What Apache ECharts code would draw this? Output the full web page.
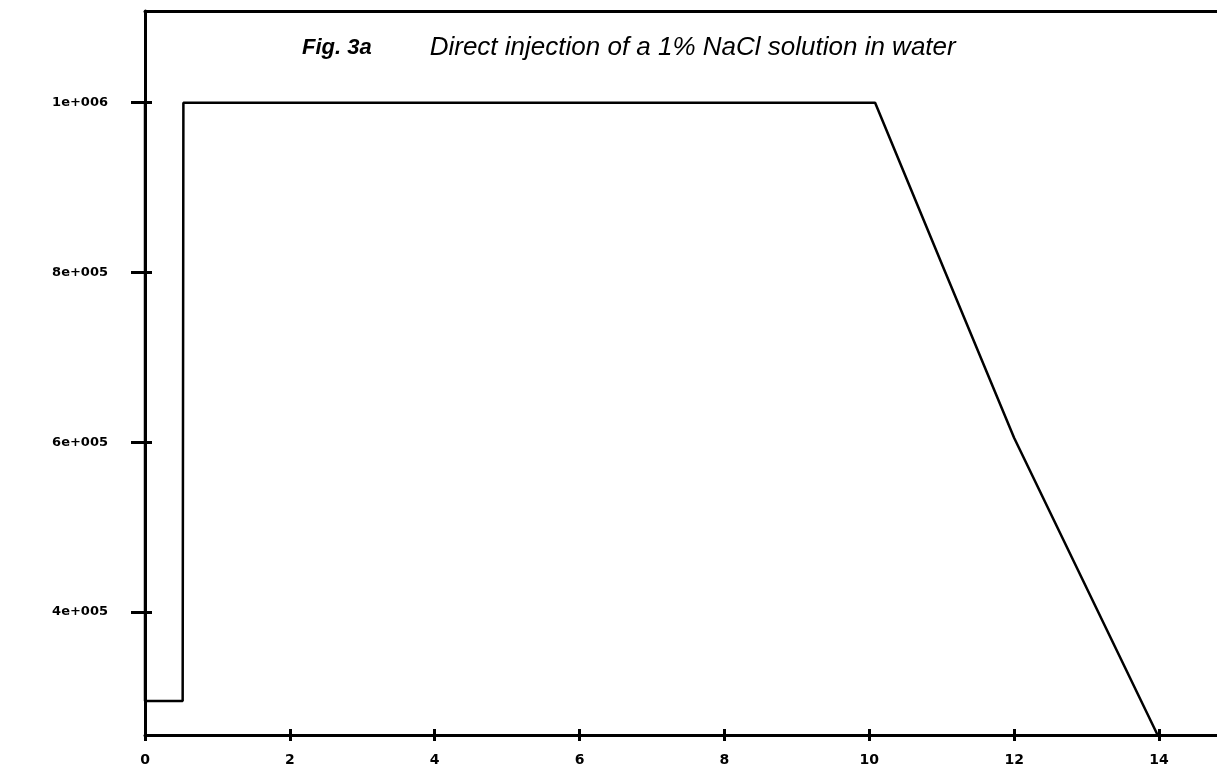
<!DOCTYPE html>
<html>
<head>
<meta charset="utf-8">
<title>Fig. 3a</title>
<script src="https://cdn.jsdelivr.net/npm/echarts@6/dist/echarts.min.js"></script>
<style>
    html, body { margin: 0; padding: 0; background: #fff; }
    #chart { width: 1217px; height: 767px; }
</style>
</head>
<body>
<div id="chart"></div>
<script>
// time (x) and signal (y) of the trace
const timeValues = [0, 0, 0.52, 0.53, 10.08, 11.05, 12.0, 13.98];
const signalValues = [1000000, 295000, 295000, 1000000, 1000000, 800000, 605000, 255000];

const xTicks = [0, 2, 4, 6, 8, 10, 12, 14];
const yTicks = [400000, 600000, 800000, 1000000];
const yTickLabels = ['4e+005', '6e+005', '8e+005', '1e+006'];

const xMin = 0;
const xMax = 14.8;
const yMin = 255000;
const yMax = 1108000;

(function () {
    const el = document.getElementById('chart');
    const chart = echarts.init(el);
    const ink = '#000';
    const labelFont = {
        color: ink,
        fontFamily: 'Verdana, "DejaVu Sans", sans-serif',
        fontWeight: 'bold',
        fontSize: 12
    };

    const points = timeValues.map(function (t, i) {
        return [t, signalValues[i]];
    });

    /*axis shared bits*/
    function xAxisBase(extra) {
        return Object.assign({
            type: 'value',
            min: xMin,
            max: xMax,
            splitLine: {show: false}
        }, extra);
    }

    function yAxisBase(extra) {
        return Object.assign({
            type: 'value',
            min: yMin,
            max: yMax,
            splitLine: {show: false}
        }, extra);
    }

    const option = {
        backgroundColor: '#fff',
        animation: false,
        title: {
            left: 297,
            top: 30,
            text: '{fig|Fig. 3a}{gap|}{txt|Direct injection of a 1% NaCl solution in water}',
            textStyle: {
                fontWeight: 'normal',
                rich: {
                    fig: {
                        fontFamily: '"Liberation Sans", Arial, sans-serif',
                        fontSize: 22,
                        fontStyle: 'italic',
                        fontWeight: 'bold',
                        color: ink
                    },
                    gap: {width: 58},
                    txt: {
                        fontFamily: '"Liberation Sans", Arial, sans-serif',
                        fontSize: 26,
                        fontStyle: 'italic',
                        fontWeight: 'normal',
                        color: ink
                    }
                }
            }
        },
        grid: {
            left: 145,
            right: 0,
            top: 11,
            bottom: 31,
            containLabel: false
        },
        xAxis: [
            xAxisBase({
                position: 'bottom',
                axisLine: {show: true, lineStyle: {color: ink, width: 3}},
                axisTick: {
                    show: true,
                    length: 6,
                    lineStyle: {color: ink, width: 3},
                    customValues: xTicks
                },
                axisLabel: Object.assign({}, labelFont, {
                    margin: 18,
                    fontSize: 14,
                    customValues: xTicks
                })
            }),
            // inner half of the crossing ticks
            xAxisBase({
                position: 'bottom',
                axisLine: {show: false},
                axisTick: {
                    show: true,
                    inside: true,
                    length: 6,
                    lineStyle: {color: ink, width: 3},
                    customValues: xTicks
                },
                axisLabel: {show: false}
            }),
            // frame line along the top
            xAxisBase({
                position: 'top',
                axisLine: {show: true, lineStyle: {color: ink, width: 3}},
                axisTick: {show: false},
                axisLabel: {show: false}
            })
        ],
        yAxis: [
            yAxisBase({
                position: 'left',
                axisLine: {show: true, lineStyle: {color: ink, width: 3}},
                axisTick: {
                    show: true,
                    length: 14,
                    lineStyle: {color: ink, width: 3},
                    customValues: yTicks
                },
                axisLabel: Object.assign({}, labelFont, {
                    margin: 37,
                    fontSize: 13,
                    customValues: yTicks,
                    formatter: function (value) {
                        const i = yTicks.indexOf(value);
                        return i >= 0 ? yTickLabels[i] : '';
                    }
                })
            }),
            yAxisBase({
                position: 'left',
                axisLine: {show: false},
                axisTick: {
                    show: true,
                    inside: true,
                    length: 7,
                    lineStyle: {color: ink, width: 3},
                    customValues: yTicks
                },
                axisLabel: {show: false}
            })
        ],
        series: [{
            type: 'line',
            xAxisIndex: 0,
            yAxisIndex: 0,
            data: points,
            showSymbol: false,
            symbol: 'none',
            lineStyle: {color: ink, width: 2.5},
            clip: false
        }]
    };

    chart.setOption(option);

    window.addEventListener('resize', chart.resize.bind(chart));
})();
</script>
</body>
</html>
